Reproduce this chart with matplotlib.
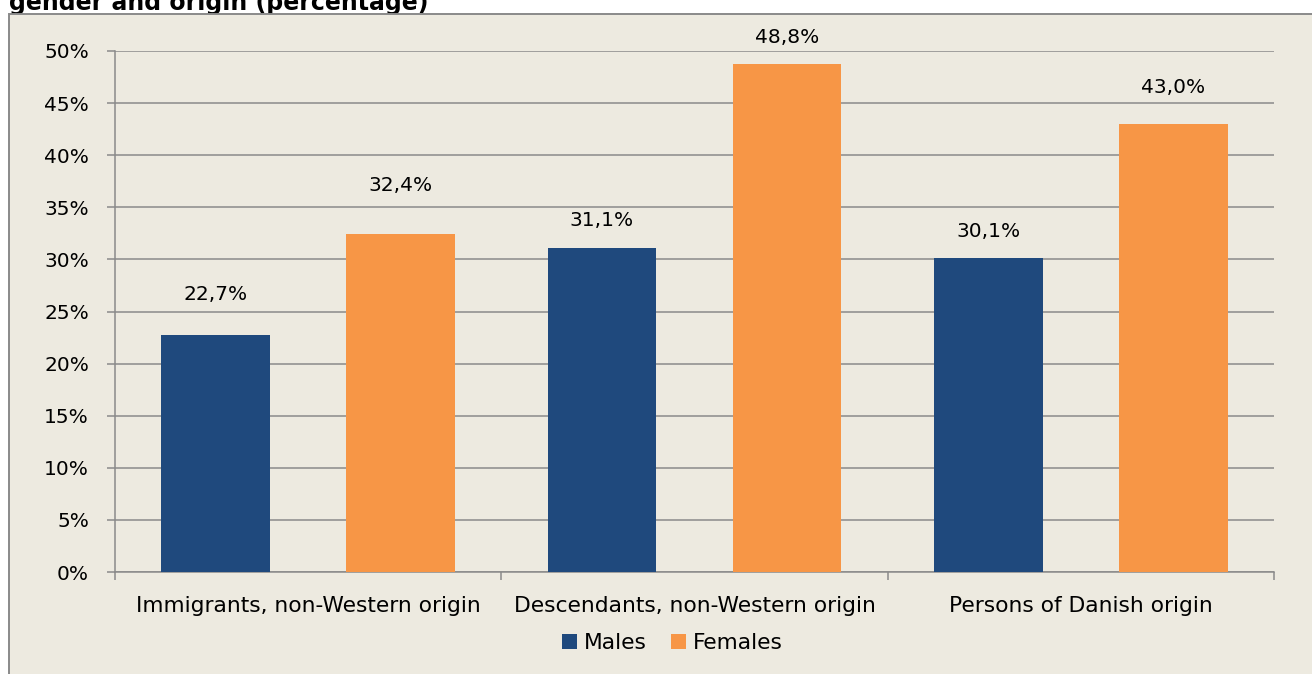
import numpy as np
import matplotlib.pyplot as plt
from matplotlib.patches import Rectangle

categories = ["Immigrants, non-Western origin",
              "Descendants, non-Western origin",
              "Persons of Danish origin"]
males = [22.7, 31.1, 30.1]
females = [32.4, 48.8, 43.0]
series_names = ["Males", "Females"]
yticks = [0, 5, 10, 15, 20, 25, 30, 35, 40, 45, 50]

# label distance above bar top in the source, in pixels (they were hand placed)
male_lab_px = [41, 27, 27]
female_lab_px = [49, 26, 36]

W, H = 1312, 674
BG = "#EDEAE0"
GRID = "#8a8a8a"
BLUE = "#1F497D"
ORANGE = "#F79646"
FS_NUM = 14.5
FS_TXT = 15.7

fig = plt.figure(figsize=(W / 100, H / 100), dpi=100)
fig.patch.set_facecolor("white")

# chart frame (runs off the right and bottom edge)
frame = Rectangle((9 / W, -0.2), 1.2, (H - 14) / H + 0.2,
                  transform=fig.transFigure, facecolor=BG,
                  edgecolor=GRID, linewidth=1.4, zorder=-5)
fig.patches.append(frame)

# title, cut off at the top like in the source
fig.text(9 / W, 1 - 10 / H, "gender and origin (percentage)",
         fontsize=17, fontweight="bold", ha="left", va="baseline", zorder=-10)

ax = fig.add_axes([115 / W, 1 - 572 / H, (1274 - 115) / W, (572 - 51) / H])
ax.set_facecolor("none")
ax.set_zorder(2)

x = np.arange(len(categories))
bw = 0.282
off = 0.2395
b1 = ax.bar(x - off, males, bw, color=BLUE, zorder=3, label=series_names[0])
b2 = ax.bar(x + off, females, bw, color=ORANGE, zorder=3, label=series_names[1])

for bars, offs in ((b1, male_lab_px), (b2, female_lab_px)):
    for r, d in zip(bars, offs):
        v = r.get_height()
        ax.annotate(f"{v:.1f}".replace(".", ",") + "%",
                    (r.get_x() + r.get_width() / 2, v),
                    xytext=(0, d * 0.72), textcoords="offset points",
                    ha="center", va="center", fontsize=FS_NUM, color="black")

ax.set_xlim(-0.5, 2.5)
ax.set_ylim(0, 50)
ax.set_yticks(yticks)
ax.set_yticklabels([f"{t}%" for t in yticks])
ax.set_xticks(x)
ax.set_xticklabels(categories)
ax.set_xticks([-0.5, 0.5, 1.5, 2.5], minor=True)

ax.yaxis.grid(True, color=GRID, linewidth=1.1, zorder=1)
ax.set_axisbelow(True)
for s in ("top", "right"):
    ax.spines[s].set_visible(False)
for s in ("left", "bottom"):
    ax.spines[s].set_color(GRID)
    ax.spines[s].set_linewidth(1.1)

ax.tick_params(axis="y", length=5.8, width=1.1, color=GRID, pad=13, labelsize=FS_NUM)
ax.tick_params(axis="x", which="major", length=0, pad=17, labelsize=FS_TXT)
ax.tick_params(axis="x", which="minor", length=5.8, width=1.1, color=GRID)

fig.legend(handles=[b1, b2], labels=series_names, loc="center",
           bbox_to_anchor=(672.5 / W, 1 - 643 / H), ncol=2, frameon=False,
           fontsize=FS_TXT, handlelength=0.69, handleheight=0.69,
           handletextpad=0.32, columnspacing=1.1)

plt.savefig("out.png", dpi=100, facecolor=fig.get_facecolor())
